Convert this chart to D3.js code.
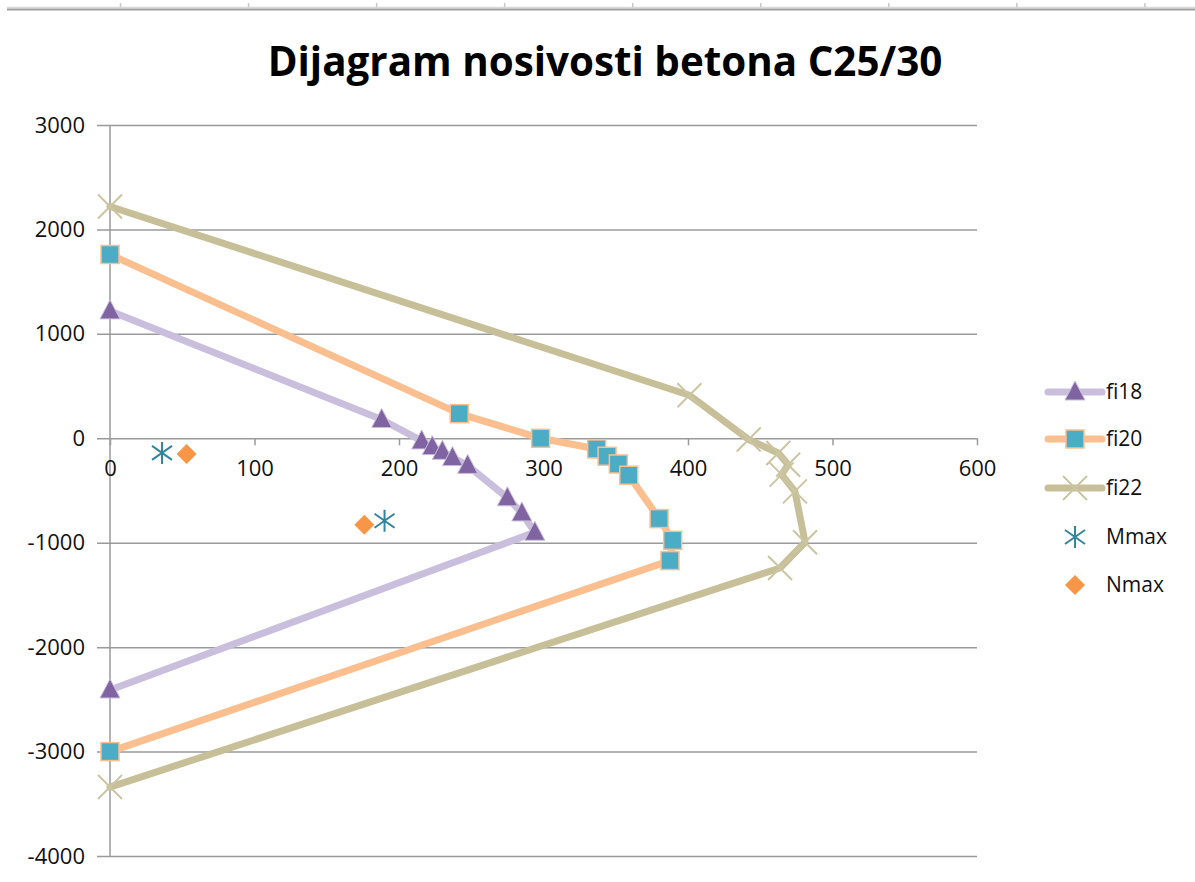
<!DOCTYPE html>
<html><head><meta charset="utf-8">
<script src="https://cdn.jsdelivr.net/npm/d3@7/dist/d3.min.js"></script>
<style>body{margin:0;background:#fff;} svg{display:block;}</style>
</head><body><svg id="c" width="1195" height="882"></svg>
<script>
const title = "Dijagram nosivosti betona C25/30";
const xTicks = [0,100,200,300,400,500,600];
const yTicks = [3000,2000,1000,0,-1000,-2000,-3000,-4000];
const fi18M = [0,188,215.7,223,230,237,247.5,275,285,294,0];
const fi18N = [1220,180,-25,-80,-125,-185,-260,-570,-715,-900,-2410];
const fi20M = [0,241.7,298,336.8,344,351.8,359,380,389.4,387.5,0];
const fi20N = [1760,236,0,-102,-172,-246,-354,-769,-977,-1171,-3000];
const fi22M = [0,401,442,462.5,469.3,464.8,474,481,463.7,0];
const fi22N = [2220,412,-12,-141,-253,-348,-508,-995,-1242,-3340];
const mmaxM = [36,190];
const mmaxN = [-140,-790];
const nmaxM = [53,176];
const nmaxN = [-150,-827];
const legendNames = ["fi18","fi20","fi22","Mmax","Nmax"];

const svg = d3.select("#c");
const F = "'Open Sans', 'Noto Sans', sans-serif";
const x = d3.scaleLinear().domain([0,600]).range([110,977]);
const y = d3.scaleLinear().domain([-4000,3000]).range([856,125]);
const fmt = d => String(d);

// spreadsheet header remnant
svg.append("line").attr("x1",7).attr("x2",1195).attr("y1",7.5).attr("y2",7.5).attr("stroke","#d8d8d8").attr("stroke-width",1.5);
svg.append("line").attr("x1",7).attr("x2",1195).attr("y1",9.5).attr("y2",9.5).attr("stroke","#a0a0a0").attr("stroke-width",2);
d3.range(9).forEach(i=>{
  const xx = 120.5 + i*128.05;
  svg.append("line").attr("x1",xx).attr("x2",xx).attr("y1",3).attr("y2",7).attr("stroke","#c8c8c8").attr("stroke-width",1.5);
});

// title
const t = svg.append("text").attr("x",605).attr("y",76).attr("text-anchor","middle")
  .attr("font-family",F).attr("font-weight","bold").attr("font-size",36).attr("fill","#000").text(title);
const w = t.node().getComputedTextLength();
t.attr("font-size", 36*675/w);

// y axis with gridlines
const gy = svg.append("g").attr("transform","translate(110,0)")
  .call(d3.axisLeft(y).tickValues(yTicks).tickFormat(fmt).tickSize(-(977-110)).tickSizeOuter(0).tickPadding(25));
gy.select(".domain").remove();
gy.selectAll(".tick line").attr("x1",-13).attr("stroke","#9a9a9a").attr("stroke-width",1.5);
gy.selectAll(".tick text").attr("font-family",F).attr("font-size",22).attr("fill","#111").attr("x",-25);
svg.append("line").attr("x1",110).attr("x2",110).attr("y1",y(3000)).attr("y2",y(-4000)).attr("stroke","#9a9a9a").attr("stroke-width",1.5);

// x axis at y=0
const gx = svg.append("g").attr("transform",`translate(0,${y(0)})`)
  .call(d3.axisBottom(x).tickValues(xTicks).tickFormat(fmt).tickSize(7).tickSizeOuter(0).tickPadding(15));
gx.select(".domain").remove();
gx.selectAll(".tick line").attr("stroke","#9a9a9a").attr("stroke-width",1.5);
gx.selectAll(".tick text").attr("font-family",F).attr("font-size",22).attr("fill","#111");

const line = d3.line().x(d=>x(d[0])).y(d=>y(d[1]));
const series = [
  {name:"fi18", M:fi18M, N:fi18N, lc:"#c9bedc", mk:"tri"},
  {name:"fi20", M:fi20M, N:fi20N, lc:"#fbbf8f", mk:"sq"},
  {name:"fi22", M:fi22M, N:fi22N, lc:"#c6bf98", mk:"x"}
];
function marker(g, type, cx, cy){
  if(type==="tri"){
    g.append("path").attr("d",`M${cx},${cy-11}L${cx+10},${cy+8}L${cx-10},${cy+8}Z`).attr("fill","#8064a2").attr("stroke","#c9bedc").attr("stroke-width",1);
  } else if(type==="sq"){
    g.append("rect").attr("x",cx-9).attr("y",cy-9).attr("width",18).attr("height",18).attr("fill","#4bacc6").attr("stroke","#fbbf8f").attr("stroke-width",1.5);
  } else if(type==="x"){
    g.append("path").attr("d",`M${cx-12},${cy-12}L${cx+12},${cy+12}M${cx-12},${cy+12}L${cx+12},${cy-12}`).attr("stroke","#cbc5a2").attr("stroke-width",2);
  } else if(type==="ast"){
    g.append("path").attr("d",`M${cx},${cy-11}L${cx},${cy+11}M${cx-10},${cy-7}L${cx+10},${cy+7}M${cx-10},${cy+7}L${cx+10},${cy-7}`).attr("stroke","#31859c").attr("stroke-width",2);
  } else if(type==="dia"){
    g.append("path").attr("d",`M${cx},${cy-10}L${cx+10},${cy}L${cx},${cy+10}L${cx-10},${cy}Z`).attr("fill","#f79646");
  }
}
series.forEach(s=>{
  const pts = s.M.map((m,i)=>[m,s.N[i]]);
  svg.append("path").datum(pts).attr("d",line).attr("fill","none").attr("stroke",s.lc)
    .attr("stroke-width",7).attr("stroke-linejoin","round").attr("stroke-linecap","round");
});
series.forEach(s=>{
  const g = svg.append("g");
  s.M.forEach((m,i)=>marker(g,s.mk,x(m),y(s.N[i])));
});
const gp = svg.append("g");
mmaxM.forEach((m,i)=>marker(gp,"ast",x(m),y(mmaxN[i])));
nmaxM.forEach((m,i)=>marker(gp,"dia",x(m),y(nmaxN[i])));

// legend
const legY = [392,439,488,537,585];
const legMk = ["tri","sq","x","ast","dia"];
const legLc = ["#c9bedc","#fbbf8f","#c6bf98",null,null];
legendNames.forEach((n,i)=>{
  const g = svg.append("g");
  if(legLc[i]) g.append("line").attr("x1",1048).attr("x2",1102).attr("y1",legY[i]).attr("y2",legY[i]).attr("stroke",legLc[i]).attr("stroke-width",7).attr("stroke-linecap","round");
  marker(g,legMk[i],1075,legY[i]);
  g.append("text").attr("x",1106).attr("y",legY[i]).attr("dy","0.35em").attr("font-family",F).attr("font-size",21).attr("fill","#111").text(n);
});
</script></body></html>
